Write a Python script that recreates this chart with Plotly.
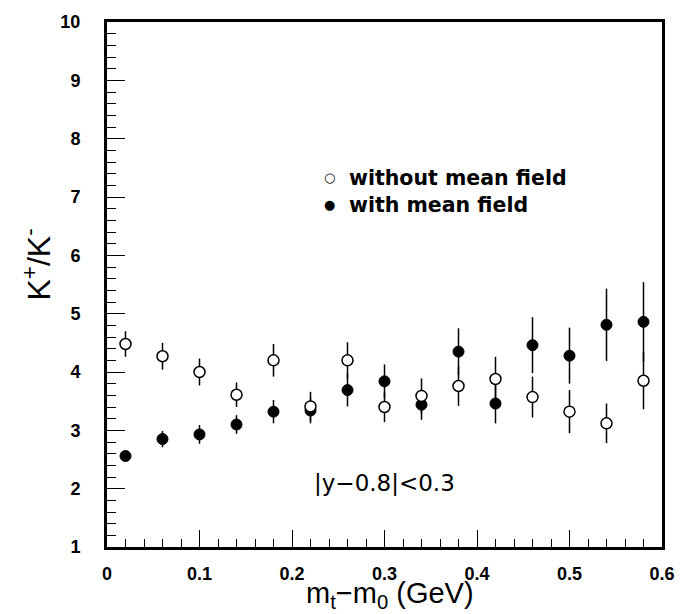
import plotly.graph_objects as go

# transverse-mass bins (GeV)
mt = [0.02, 0.06, 0.10, 0.14, 0.18, 0.22, 0.26, 0.30, 0.34, 0.38, 0.42, 0.46, 0.50, 0.54, 0.58]

# K+/K- ratio without mean field
ratio_free = [4.48, 4.27, 4.00, 3.61, 4.20, 3.41, 4.20, 3.40, 3.59, 3.76, 3.88, 3.57, 3.32, 3.12, 3.85]
err_free = [0.22, 0.23, 0.23, 0.21, 0.28, 0.25, 0.31, 0.26, 0.30, 0.34, 0.38, 0.35, 0.37, 0.34, 0.49]

# K+/K- ratio with mean field
ratio_mf = [2.56, 2.85, 2.93, 3.10, 3.32, 3.34, 3.69, 3.84, 3.44, 4.35, 3.46, 4.46, 4.28, 4.81, 4.86]
err_mf = [0.05, 0.14, 0.16, 0.16, 0.20, 0.22, 0.28, 0.29, 0.26, 0.40, 0.34, 0.48, 0.48, 0.62, 0.68]

x_ticks = [0, 0.1, 0.2, 0.3, 0.4, 0.5, 0.6]
x_ticklabels = ["0", "0.1", "0.2", "0.3", "0.4", "0.5", "0.6"]
y_ticks = list(range(1, 11))
y_ticklabels = [str(v) for v in y_ticks]

fig = go.Figure()

fig.add_trace(go.Scatter(
    x=mt, y=ratio_mf, mode="markers",
    error_y=dict(type="data", array=err_mf, width=0, thickness=1.5, color="black"),
    marker=dict(symbol="circle", size=11, color="black", line=dict(color="black", width=1)),
    name="with mean field", showlegend=False,
))
fig.add_trace(go.Scatter(
    x=mt, y=ratio_free, mode="markers",
    error_y=dict(type="data", array=err_free, width=0, thickness=1.5, color="black"),
    marker=dict(symbol="circle", size=11, color="white", line=dict(color="black", width=1.5)),
    name="without mean field", showlegend=False,
))

tick_font = dict(family="Liberation Sans, Arial, sans-serif", size=18, color="black", weight="bold")
legend_font = dict(family="DejaVu Sans, sans-serif", size=20.5, color="black", weight="bold")

fig.update_xaxes(
    range=[0, 0.6], tickvals=x_ticks, ticktext=x_ticklabels,
    ticks="inside", ticklen=17, tickwidth=1.2, tickcolor="black",
    minor=dict(dtick=0.02, ticks="inside", ticklen=8, tickwidth=1, tickcolor="black"),
    showline=True, linewidth=3, linecolor="black", mirror=True,
    showgrid=False, zeroline=False, tickfont=tick_font, ticklabelstandoff=8,
)
fig.update_yaxes(
    range=[1, 10], tickvals=y_ticks, ticktext=y_ticklabels,
    ticks="inside", ticklen=18, tickwidth=1.2, tickcolor="black",
    minor=dict(dtick=0.2, ticks="inside", ticklen=9, tickwidth=1, tickcolor="black"),
    showline=True, linewidth=3, linecolor="black", mirror=True,
    showgrid=False, zeroline=False, tickfont=tick_font, ticklabelstandoff=20,
)

annotations = [
    # axis titles
    dict(text="m<sub>t</sub>\u2212m<sub>0</sub> (GeV)", xref="paper", yref="paper",
         x=0.51, y=-0.092, xanchor="center", yanchor="middle", showarrow=False,
         font=dict(family="Liberation Sans, Arial, sans-serif", size=29, color="black")),
    dict(text="K<sup>+</sup>/K<sup>-</sup>", xref="paper", yref="paper",
         x=-0.1266, y=0.5376, xanchor="center", yanchor="middle", showarrow=False, textangle=-90,
         font=dict(family="Liberation Sans, Arial, sans-serif", size=32, color="black")),
    # legend entries
    dict(text="\u25CB", xref="paper", yref="paper", x=0.401, y=0.7036,
         xanchor="center", yanchor="middle", showarrow=False,
         font=dict(family="DejaVu Sans, sans-serif", size=13, color="black")),
    dict(text="\u25CF", xref="paper", yref="paper", x=0.401, y=0.652,
         xanchor="center", yanchor="middle", showarrow=False,
         font=dict(family="DejaVu Sans, sans-serif", size=13, color="black")),
    dict(text="without mean field", xref="paper", yref="paper", x=0.433, y=0.7036,
         xanchor="left", yanchor="middle", showarrow=False, font=legend_font),
    dict(text="with mean field", xref="paper", yref="paper", x=0.433, y=0.652,
         xanchor="left", yanchor="middle", showarrow=False, font=legend_font),
    # rapidity cut
    dict(text="|y\u22120.8|<0.3", xref="x", yref="y", x=0.30, y=2.09,
         xanchor="center", yanchor="middle", showarrow=False,
         font=dict(family="DejaVu Sans, sans-serif", size=23, color="black")),
]

fig.update_layout(
    width=687, height=614,
    margin=dict(l=107, r=19, t=15, b=67),
    plot_bgcolor="white", paper_bgcolor="white",
    annotations=annotations,
    showlegend=False,
)

fig.write_html("out.html")
